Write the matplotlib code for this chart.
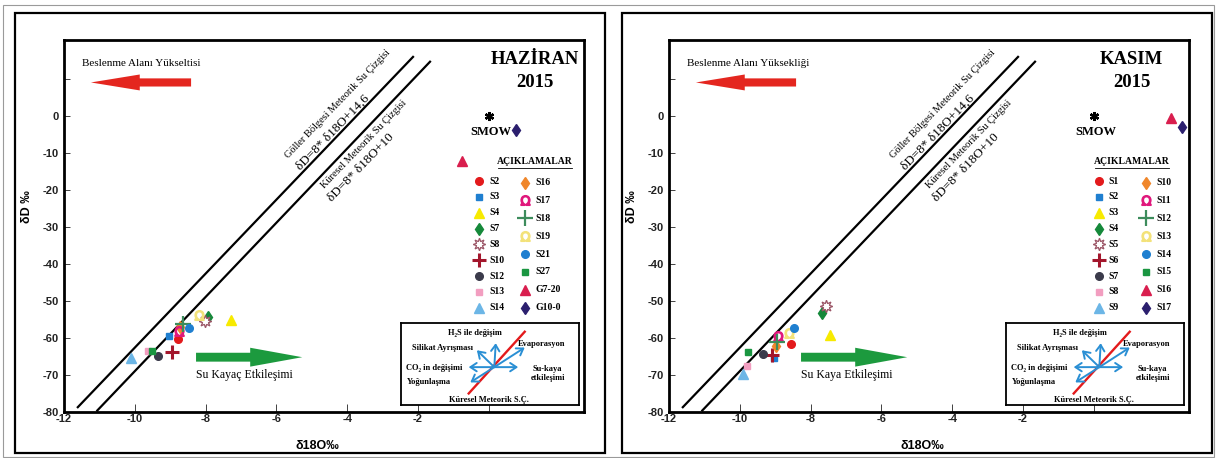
import numpy as np
import matplotlib.pyplot as plt
from matplotlib.patches import FancyArrow, Rectangle

plt.rcParams['font.family'] = ['Liberation Sans', 'DejaVu Sans']
SERIF = ['Liberation Serif', 'DejaVu Serif']

W, H = 1217, 458

# Haziran 2015 sampling
jun_labels = ['S2', 'S3', 'S4', 'S7', 'S8', 'S10', 'S12', 'S13', 'S14',
              'S16', 'S17', 'S18', 'S19', 'S21', 'S27', 'G7-20', 'G10-0']
jun_o18 = [-8.78, -9.04, -7.27, -7.93, -8.02, -8.94, -9.34, -9.64, -10.10,
           -8.72, -8.76, -8.64, -8.18, -8.46, -9.51, -0.76, 0.78]
jun_dD = [-60.2, -59.5, -55.1, -54.4, -55.4, -63.7, -64.9, -63.5, -65.3,
          -57.0, -58.2, -56.2, -53.8, -57.4, -63.4, -12.3, -3.9]

# Kasim 2015 sampling
nov_labels = ['S1', 'S2', 'S3', 'S4', 'S5', 'S6', 'S7', 'S8', 'S9',
              'S10', 'S11', 'S12', 'S13', 'S14', 'S15', 'S16', 'S17']
nov_o18 = [-8.54, -9.03, -7.44, -7.67, -7.57, -9.10, -9.34, -9.80, -9.90,
           -8.97, -8.91, -8.95, -8.62, -8.47, -9.78, 2.17, 2.48]
nov_dD = [-61.6, -65.5, -59.3, -53.3, -51.5, -64.5, -64.3, -67.5, -69.8,
          -62.2, -59.5, -61.1, -58.6, -57.4, -63.9, -0.6, -3.1]

# reference water
smow_o18, smow_dD = 0.0, 0.0

# meteoric water lines as drawn (end points)
lmwl_o18 = [-11.61, -2.14]
lmwl_dD = [-78.7, 15.9]
gmwl_o18 = [-11.06, -1.66]
gmwl_dD = [-79.6, 14.6]

x_ticks = [-12, -10, -8, -6, -4, -2, 0]
x_ticklabels = ['-12', '-10', '-8', '-6', '-4', '-2', '']
y_ticks = [-80, -70, -60, -50, -40, -30, -20, -10, 0, 10]
y_ticklabels = ['-80', '-70', '-60', '-50', '-40', '-30', '-20', '-10', '0', '']

# one marker style per legend slot (same order in both panels)
styles = [
    dict(marker='o', color='#e31a1c', ms=5.5),
    dict(marker='s', color='#1f7fd0', ms=4),
    dict(marker='^', color='#f7ea00', ms=6.5),
    dict(marker='d', color='#15893a', ms=6.5),
    dict(marker=(8, 1, 0), color='#9b5566', ms=9, mfc='white', mew=0.9),
    dict(marker='+', color='#a3162c', ms=10, mew=2.2),
    dict(marker='o', color='#3b3b4b', ms=5.5),
    dict(marker='s', color='#f29ec0', ms=5),
    dict(marker='^', color='#6cb6e6', ms=6.5),
    dict(marker='d', color='#f0862a', ms=6),
    dict(marker=r'$\Omega$', color='#e0187c', ms=7),
    dict(marker='+', color='#3d8c5c', ms=11, mew=1.6),
    dict(marker=r'$\Omega$', color='#f3e27a', ms=7),
    dict(marker='o', color='#1f7fd0', ms=5.5),
    dict(marker='s', color='#1a9641', ms=5),
    dict(marker='^', color='#d91e4e', ms=6.5),
    dict(marker='d', color='#2b1f6e', ms=6),
]


def px_rect(l, t, r, b):
    return [l / W, 1 - b / H, (r - l) / W, (b - t) / H]


def draw_inset(ax):
    ins = ax.inset_axes([0.649, 0.019, 0.342, 0.221])
    ins.set_xlim(0, 1)
    ins.set_ylim(0, 1)
    ins.set_xticks([])
    ins.set_yticks([])
    for s in ins.spines.values():
        s.set_linewidth(1.3)
    ins.plot([0.378, 0.693], [0.139, 0.889], color='#e31a1c', lw=1.7)
    cx, cy = 0.522, 0.459
    ends = [(0.530, 0.75), (0.424, 0.664), (0.693, 0.697),
            (0.378, 0.459), (0.656, 0.459), (0.387, 0.274)]
    for ex, ey in ends:
        ins.annotate('', xy=(ex, ey), xytext=(cx, cy),
                     arrowprops=dict(arrowstyle='->,head_length=0.45,head_width=0.3',
                                     color='#2a8fd4', lw=1.4,
                                     shrinkA=0, shrinkB=0))
    kw = dict(family=SERIF, fontsize=6, fontweight='bold', ha='center', va='center')
    ins.text(0.411, 0.877, 'H\u2082S ile değişim', **kw)
    ins.text(0.229, 0.697, 'Silikat Ayrışması', **kw)
    ins.text(0.790, 0.734, 'Evaporasyon', **kw)
    ins.text(0.183, 0.451, 'CO\u2082 in değişimi', **kw)
    ins.text(0.822, 0.385, 'Su-kaya\netkileşimi', linespacing=1.1, **kw)
    ins.text(0.156, 0.274, 'Yoğunlaşma', **kw)
    ins.text(0.489, 0.062, 'Küresel Meteorik S.Ç.', **kw)


def draw_panel(fig, rect, frame, o18, dD, labels, title, upper_note, lower_note, legend_x):
    fig.patches.append(Rectangle((frame[0], frame[1]), frame[2], frame[3],
                                 transform=fig.transFigure, fill=False,
                                 ec='black', lw=1.6))
    ax = fig.add_axes(rect)
    ax.set_xlim(-12, 2.69)
    ax.set_ylim(-80, 20.6)
    for s in ax.spines.values():
        s.set_linewidth(2.0)
    ax.set_xticks(x_ticks)
    ax.set_xticklabels(x_ticklabels, fontweight='bold')
    ax.set_yticks(y_ticks)
    ax.set_yticklabels(y_ticklabels, fontweight='bold')
    ax.tick_params(axis='x', direction='in', length=6, width=0.6, pad=1.5,
                   labelsize=8, colors='#222222')
    ax.tick_params(axis='y', direction='in', length=4, width=0.6, pad=4,
                   labelsize=8, colors='#222222')

    ax.set_xlabel('δ18O‰', fontsize=9, fontweight='bold')
    ax.xaxis.set_label_coords(0.487, -0.075)
    ax.set_ylabel('δD ‰', fontsize=9, fontweight='bold')
    ax.yaxis.set_label_coords(-0.06, 0.55)

    # meteoric water lines
    ax.plot(lmwl_o18, lmwl_dD, color='black', lw=1.6, zorder=2)
    ax.plot(gmwl_o18, gmwl_dD, color='black', lw=1.6, zorder=2)
    rot = 46
    ax.text(-4.26, 3.2, 'Göller Bölgesi Meteorik Su Çizgisi', family=SERIF,
            fontsize=7.5, rotation=rot, rotation_mode='anchor', ha='center', va='center')
    ax.text(-4.40, -4.6, 'δD=8* δ18O+14,6', family=SERIF,
            fontsize=9.5, rotation=rot, rotation_mode='anchor', ha='center', va='center')
    ax.text(-3.53, -7.6, 'Küresel Meteorik Su Çizgisi', family=SERIF,
            fontsize=7.5, rotation=rot, rotation_mode='anchor', ha='center', va='center')
    ax.text(-3.62, -14.0, 'δD=8* δ18O+10', family=SERIF,
            fontsize=9.5, rotation=rot, rotation_mode='anchor', ha='center', va='center')

    # arrows
    ax.add_patch(FancyArrow(-8.41, 9.0, -2.83, 0, width=2.2, head_width=4.3,
                            head_length=1.38, length_includes_head=True,
                            color='#e4261f', lw=0))
    ax.add_patch(FancyArrow(-8.27, -65.2, 3.0, 0, width=2.4, head_width=5.1,
                            head_length=1.47, length_includes_head=True,
                            color='#1c9a3e', lw=0))
    ax.text(-11.49, 14.2, upper_note, family=SERIF, fontsize=8, va='center')
    ax.text(-8.27, -70.0, lower_note, family=SERIF, fontsize=8.5, va='center')

    # SMOW
    ax.plot(smow_o18, smow_dD, marker=(6, 2, 0), color='black', ms=6.5, mew=1.7)
    ax.text(smow_o18 + 0.05, smow_dD - 4.4, 'SMOW', family=SERIF, fontsize=9,
            fontweight='bold', ha='center', va='center')

    # samples
    for x, y, st in zip(o18, dD, styles):
        ax.plot(x, y, linestyle='none', zorder=4, **st)

    # title
    tx = legend_x[4]
    ax.text(tx, 0.946, title[0], transform=ax.transAxes, family=SERIF,
            fontsize=13.5, fontweight='bold', ha='center', va='center')
    ax.text(tx, 0.885, title[1], transform=ax.transAxes, family=SERIF,
            fontsize=13.5, fontweight='bold', ha='center', va='center')

    # legend in two columns
    lx1, tx1, lx2, tx2, hx = legend_x
    ax.text(hx, 0.673, 'AÇIKLAMALAR', transform=ax.transAxes, family=SERIF,
            fontsize=7, fontweight='bold', ha='center', va='center')
    ax.plot([hx - 0.071, hx + 0.071], [0.655, 0.655], transform=ax.transAxes,
            color='black', lw=0.6, clip_on=False)
    rows1 = np.linspace(0.620, 0.280, 9)
    rows2 = np.linspace(0.616, 0.280, 8)
    for i in range(9):
        ax.plot(lx1, rows1[i], transform=ax.transAxes, linestyle='none',
                clip_on=False, **styles[i])
        ax.text(tx1, rows1[i], labels[i], transform=ax.transAxes, family=SERIF,
                fontsize=7, fontweight='bold', va='center')
    for j in range(8):
        ax.plot(lx2, rows2[j], transform=ax.transAxes, linestyle='none',
                clip_on=False, **styles[9 + j])
        ax.text(tx2, rows2[j], labels[9 + j], transform=ax.transAxes, family=SERIF,
                fontsize=7, fontweight='bold', va='center')

    draw_inset(ax)
    return ax


fig = plt.figure(figsize=(W / 100, H / 100), dpi=100)

# thin grey border of the page
fig.patches.append(Rectangle((3 / W, 1 / H), 1211 / W, 452 / H,
                             transform=fig.transFigure, fill=False,
                             ec='#9a9a9a', lw=0.8))

draw_panel(fig, px_rect(64, 39.5, 584, 412), px_rect(15, 13, 605, 453),
           jun_o18, jun_dD, jun_labels, ('HAZİRAN', '2015'),
           'Beslenme Alanı Yükseltisi', 'Su Kayaç Etkileşimi',
           (0.798, 0.818, 0.887, 0.906, 0.905))
draw_panel(fig, px_rect(669, 39.5, 1189, 412), px_rect(622, 13, 1212, 453),
           nov_o18, nov_dD, nov_labels, ('KASIM', '2015'),
           'Beslenme Alanı Yüksekliği', 'Su Kaya Etkileşimi',
           (0.827, 0.846, 0.917, 0.937, 0.890))

fig.savefig('out.png', dpi=100)
